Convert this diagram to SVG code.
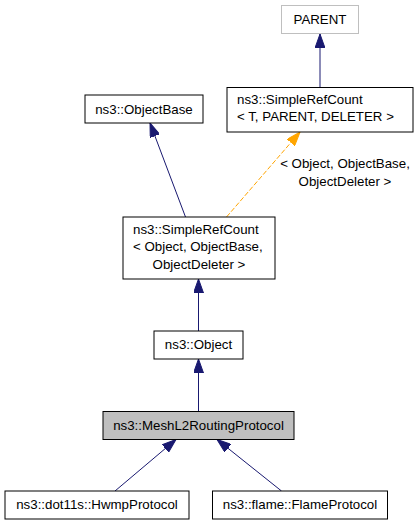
<svg xmlns="http://www.w3.org/2000/svg" width="419" height="525" viewBox="0 0 419 525">
<style>
.n rect{fill:#ffffff;stroke:#000000;stroke-width:1}
.t{font-family:"Liberation Sans",Arial,sans-serif;font-size:13.3px;fill:#000000}
.m{text-anchor:middle}
.e{fill:none;stroke:#191970;stroke-width:1}
.d{fill:none;stroke:#ffa500;stroke-width:1;stroke-dasharray:5,2}
</style>
<defs>
<marker id="ab" markerWidth="14" markerHeight="10" refX="14" refY="5" orient="auto" markerUnits="userSpaceOnUse"><path d="M0,0 L14,5 L0,10 Z" fill="#191970" stroke="#191970"/></marker>
<marker id="ao" markerWidth="14" markerHeight="10" refX="14" refY="5" orient="auto" markerUnits="userSpaceOnUse"><path d="M0,0 L14,5 L0,10 Z" fill="#ffa500" stroke="#ffa500"/></marker>
</defs>
<rect width="419" height="525" fill="#ffffff"/>
<g id="connectors">
<line class="e" x1="320" y1="87" x2="320" y2="34" marker-end="url(#ab)"/>
<line class="e" x1="185.5" y1="217" x2="150" y2="123" marker-end="url(#ab)"/>
<line class="d" x1="226.5" y1="217" x2="300" y2="132" marker-end="url(#ao)"/>
<line class="e" x1="198.5" y1="331" x2="198.5" y2="279" marker-end="url(#ab)"/>
<line class="e" x1="198.5" y1="411" x2="198.5" y2="359" marker-end="url(#ab)"/>
<line class="e" x1="115" y1="491" x2="176" y2="439.5" marker-end="url(#ab)"/>
<line class="e" x1="281.5" y1="491" x2="217" y2="439.5" marker-end="url(#ab)"/>
<text class="t m" x="345" y="168">&lt; Object, ObjectBase,</text>
<text class="t m" x="345" y="186">ObjectDeleter &gt;</text>
</g>
<g id="parent" class="n">
<rect x="281.5" y="5.5" width="77" height="28" style="stroke:#bfbfbf"/>
<text class="t m" x="320" y="23.5">PARENT</text>
</g>
<g id="simplerefcount_t" class="n">
<rect x="227" y="87.5" width="186" height="44.5"/>
<text class="t" x="237" y="104">ns3::SimpleRefCount</text>
<text class="t" x="237" y="121">&lt; T, PARENT, DELETER &gt;</text>
</g>
<g id="objectbase" class="n">
<rect x="85" y="95" width="118" height="28"/>
<text class="t m" x="144" y="113.5">ns3::ObjectBase</text>
</g>
<g id="simplerefcount_object" class="n">
<rect x="123" y="217" width="152" height="62"/>
<text class="t" x="133" y="233.5">ns3::SimpleRefCount</text>
<text class="t" x="133" y="251">&lt; Object, ObjectBase,</text>
<text class="t m" x="199" y="268.5">ObjectDeleter &gt;</text>
</g>
<g id="object" class="n">
<rect x="154" y="331" width="89" height="28"/>
<text class="t m" x="198.5" y="349">ns3::Object</text>
</g>
<g id="meshl2routingprotocol" class="n">
<rect x="103" y="411.5" width="191" height="28" style="fill:#bfbfbf"/>
<text class="t m" x="198.5" y="429.5">ns3::MeshL2RoutingProtocol</text>
</g>
<g id="hwmpprotocol" class="n">
<rect x="5" y="491" width="184" height="28"/>
<text class="t m" x="97" y="509">ns3::dot11s::HwmpProtocol</text>
</g>
<g id="flameprotocol" class="n">
<rect x="212.5" y="491" width="175" height="28"/>
<text class="t m" x="300" y="509">ns3::flame::FlameProtocol</text>
</g>
</svg>
